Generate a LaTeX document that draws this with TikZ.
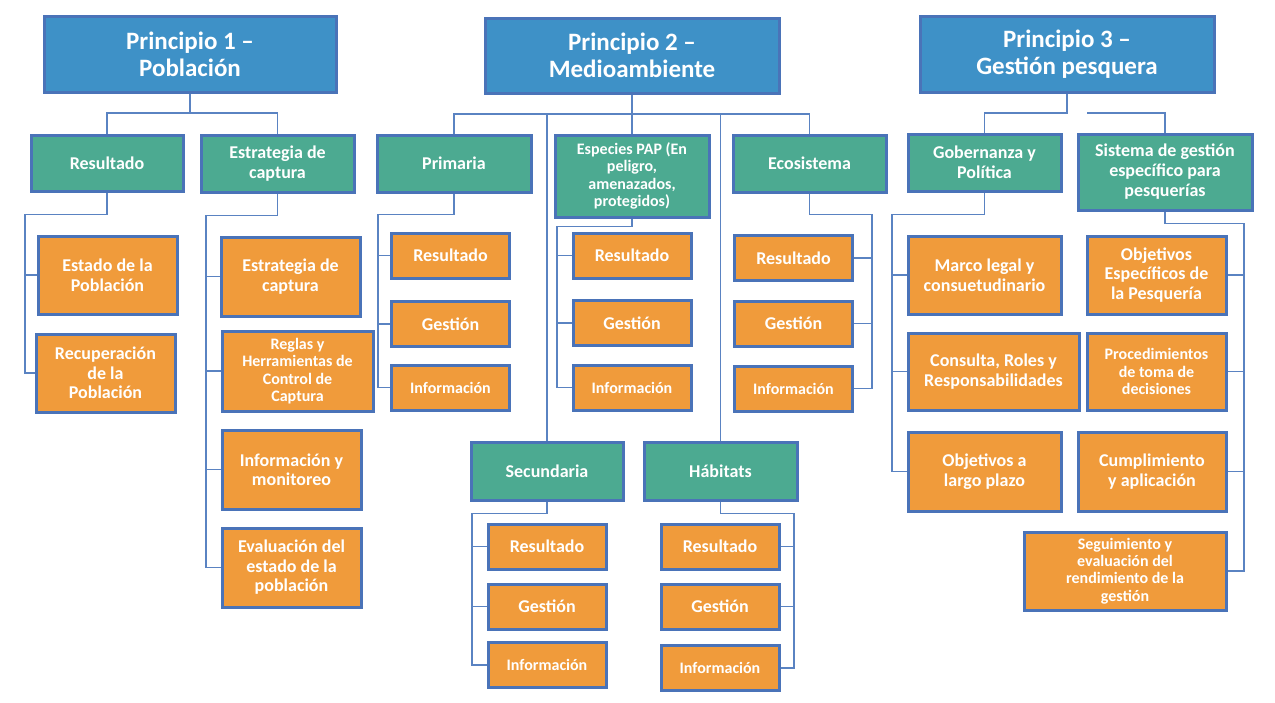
\documentclass[tikz,border=0pt]{standalone}
\usepackage{fontspec}
\setmainfont{Carlito}
\definecolor{azul}{HTML}{3E91C7}
\definecolor{verde}{HTML}{4CAA91}
\definecolor{naranja}{HTML}{F09B3B}
\definecolor{borde}{HTML}{4A73B8}
\definecolor{linea}{HTML}{5A83C2}
\tikzset{
    box/.style={draw=borde, line width=3pt, align=center, text=white, inner sep=2pt},
    hdr/.style={box, fill=azul, font=\bfseries\fontsize{25}{27}\selectfont, minimum width=294pt, minimum height=76pt},
    cat/.style={box, fill=verde, font=\bfseries\fontsize{18}{20}\selectfont, minimum width=153pt, minimum height=57pt},
    item/.style={box, fill=naranja, font=\bfseries\fontsize{18}{19.5}\selectfont, minimum width=139pt, minimum height=78pt},
    sub/.style={item, minimum width=118pt, minimum height=45pt},
    small/.style={font=\bfseries\fontsize{16}{17.3}\selectfont},
    link/.style={draw=linea, line width=1.7pt}
}
\begin{document}
\begin{tikzpicture}[x=1pt,y=-1pt]
    \fill[white] (0,0) rectangle (1275,702);
    \useasboundingbox (0,0) rectangle (1275,702);
    % principios
    \node[hdr, minimum width=292pt] (p1) at (190,54) {Principio 1 –\\Población};
    \node[hdr, minimum height=75pt] (p2) at (632,55.5) {Principio 2 –\\Medioambiente};
    \node[hdr] (p3) at (1067,54) {Principio 3 –\\Gestión pesquera};
    % categorias
    \node[cat, minimum width=152pt, minimum height=56pt] (res) at (107,163) {Resultado};
    \node[cat] (estr) at (277.5,163.5) {Estrategia de\\captura};
    \node[cat, minimum width=154pt] (prim) at (454,163.5) {Primaria};
    \node[cat, small, minimum width=154pt, minimum height=82pt] (pap) at (632,176) {Especies PAP (En\\peligro,\\amenazados,\\protegidos)};
    \node[cat] (eco) at (809.5,163.5) {Ecosistema};
    \node[cat] (gob) at (984.5,162.5) {Gobernanza y\\Política};
    \node[cat, minimum width=174pt, minimum height=76pt] (sis) at (1165,172) {Sistema de gestión\\específico para\\pesquerías};
    \node[cat, minimum width=152pt, minimum height=58pt] (sec) at (547,471) {Secundaria};
    \node[cat, minimum height=58pt] (hab) at (720.5,471) {Hábitats};
    % principio 1
    \node[item] (estpob) at (107.5,275) {Estado de la\\Población};
    \node[item] (recpob) at (105.5,373) {Recuperación\\de la\\Población};
    \node[item, minimum height=79pt] (estcap) at (290.5,276.5) {Estrategia de\\captura};
    \node[item, small, minimum width=151pt, minimum height=80pt] (reglas) at (297.5,371) {Reglas y\\Herramientas de\\Control de\\Captura};
    \node[item, minimum height=79pt] (infmon) at (291.5,469.5) {Información y\\monitoreo};
    \node[item, minimum height=79pt] (evalpob) at (291.5,567.5) {Evaluación del\\estado de la\\población};
    % principio 2
    \node[sub] (primres) at (450.5,255.5) {Resultado};
    \node[sub] (primges) at (450.5,324) {Gestión};
    \node[sub, small] (priminf) at (450.5,387.5) {Información};
    \node[sub] (papres) at (632,255.5) {Resultado};
    \node[sub] (papges) at (632,323) {Gestión};
    \node[sub, small] (papinf) at (632,387.5) {Información};
    \node[sub] (ecores) at (793.5,258) {Resultado};
    \node[sub] (ecoges) at (793.5,323.5) {Gestión};
    \node[sub, small] (ecoinf) at (793.5,388.5) {Información};
    \node[sub] (secres) at (547,546.5) {Resultado};
    \node[sub] (secges) at (547,606.5) {Gestión};
    \node[sub, small] (secinf) at (547,665) {Información};
    \node[sub] (habres) at (720,546.5) {Resultado};
    \node[sub] (habges) at (720,606.5) {Gestión};
    \node[sub, small] (habinf) at (720,668) {Información};
    % principio 3
    \node[item, minimum width=153pt] (marco) at (984.5,275) {Marco legal y\\consuetudinario};
    \node[item, minimum width=171pt, minimum height=77pt] (consulta) at (993.5,371.5) {Consulta, Roles y\\Responsabilidades};
    \node[item, minimum width=153pt, minimum height=79pt] (objlp) at (984.5,471.5) {Objetivos a\\largo plazo};
    \node[item] (objesp) at (1156.5,275) {Objetivos\\Específicos de\\la Pesquería};
    \node[item, small, minimum height=77pt] (proc) at (1156.5,371.5) {Procedimientos\\de toma de\\decisiones};
    \node[item, minimum width=148pt, minimum height=79pt] (cump) at (1152,471.5) {Cumplimiento\\y aplicación};
    \node[item, small, minimum width=202pt] (seg) at (1125,571) {Seguimiento y\\evaluación del\\rendimiento de la\\gestión};
    % conectores nivel 1
    \draw[link] (p1.south) -- (p1.south |- 0,113) -| (res.north);
    \draw[link] (p1.south |- 0,113) -| (estr.north);
    \draw[link] (p2.south) -- (p2.south |- 0,114) -| (prim.north);
    \foreach \n in {pap,eco,sec,hab}
        \draw[link] (p2.south |- 0,114) -| (\n.north);
    \draw[link] (p3.south) -- (p3.south |- 0,113) -| (gob.north);
    \coordinate (p3gap) at (1087,113);
    \draw[link] (p3gap) -| (sis.north);
    % conectores nivel 2
    \draw[link] (res.south) -- ++(0,22) -| (25,0 |- recpob.west) -- (recpob.west);
    \draw[link] (25,0 |- estpob.west) -- (estpob.west);
    \draw[link] (estr.south) -- ++(0,22) -| (206,0 |- evalpob.west) -- (evalpob.west);
    \foreach \n in {estcap,reglas,infmon}
        \draw[link] (206,0 |- \n.west) -- (\n.west);
    \draw[link] (prim.south) -- ++(0,21) -| (378,0 |- priminf.west) -- (priminf.west);
    \foreach \n in {primres,primges}
        \draw[link] (378,0 |- \n.west) -- (\n.west);
    \draw[link] (pap.south) -- ++(0,8) -| (557,0 |- papinf.west) -- (papinf.west);
    \foreach \n in {papres,papges}
        \draw[link] (557,0 |- \n.west) -- (\n.west);
    \draw[link] (eco.south) -- ++(0,21) -| (872,0 |- ecoinf.east) -- (ecoinf.east);
    \foreach \n in {ecores,ecoges}
        \draw[link] (872,0 |- \n.east) -- (\n.east);
    \draw[link] (sec.south) -- ++(0,12) -| (472,0 |- secinf.west) -- (secinf.west);
    \foreach \n in {secres,secges}
        \draw[link] (472,0 |- \n.west) -- (\n.west);
    \draw[link] (hab.south) -- ++(0,12) -| (794,0 |- habinf.east) -- (habinf.east);
    \foreach \n in {habres,habges}
        \draw[link] (794,0 |- \n.east) -- (\n.east);
    \draw[link] (gob.south) -- ++(0,22) -| (892,0 |- objlp.west) -- (objlp.west);
    \foreach \n in {marco,consulta}
        \draw[link] (892,0 |- \n.west) -- (\n.west);
    \draw[link] (sis.south) -- ++(0,12) -| (1244,0 |- seg.east) -- (seg.east);
    \foreach \n in {objesp,proc,cump}
        \draw[link] (1244,0 |- \n.east) -- (\n.east);
\end{tikzpicture}
\end{document}
